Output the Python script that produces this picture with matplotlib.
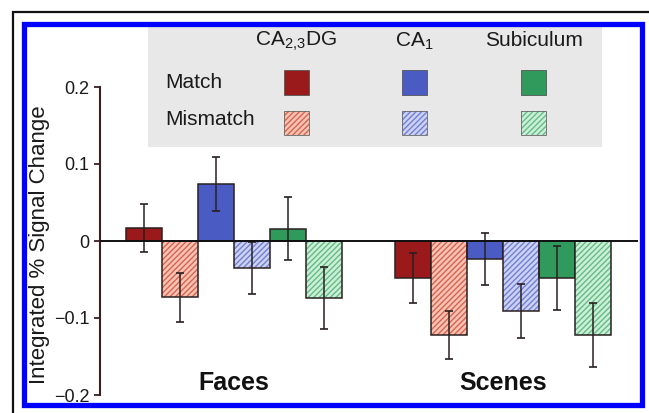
import matplotlib
matplotlib.use("Agg")
import matplotlib.pyplot as plt
from matplotlib.patches import Rectangle

plt.rcParams["font.family"] = ["Liberation Sans", "DejaVu Sans"]
plt.rcParams["mathtext.default"] = "regular"
plt.rcParams["hatch.linewidth"] = 1.0

# data
regions = ["CA$_{2{,}3}$DG", "CA$_1$", "Subiculum"]
groups = ["Faces", "Scenes"]
faces_match = [0.017, 0.074, 0.016]
faces_match_err = [0.031, 0.035, 0.041]
faces_mis = [-0.073, -0.035, -0.074]
faces_mis_err = [0.032, 0.034, 0.040]
scenes_match = [-0.048, -0.023, -0.048]
scenes_match_err = [0.032, 0.034, 0.041]
scenes_mis = [-0.122, -0.091, -0.122]
scenes_mis_err = [0.031, 0.035, 0.042]
yticks = [-0.2, -0.1, 0, 0.1, 0.2]
ytick_labels = ["\u22120.2", "\u22120.1", "0", "0.1", "0.2"]

match_colors = ["#9a1a1c", "#4a5cc4", "#2f9a5c"]
mis_fill = ["#f6c3b4", "#cdd2f2", "#cdeed8"]
mis_hatch = ["#d9644e", "#7080d4", "#63bd84"]
edge = "#2a2020"
txt = "#1a1a1a"

W, H = 649, 413
fig = plt.figure(figsize=(W / 100, H / 100), dpi=100)


def px(x, y):
    # pixel coords (top-left origin) -> figure fraction
    return x / W, 1 - y / H


def box(x0, y0, x1, y1, **kw):
    # rectangle given by pixel corners (top-left, bottom-right)
    fx, fy = px(x0, y1)
    r = Rectangle((fx, fy), (x1 - x0) / W, (y1 - y0) / H, transform=fig.transFigure, **kw)
    fig.patches.append(r)
    return r


# frames around the picture
box(13, 12, 700, 500, fill=False, edgecolor="#111111", linewidth=1.6, zorder=10)
box(24, 23.5, 641.5, 404.5, fill=False, edgecolor="#0000ff", linewidth=3.8, zorder=10)

l, b = px(100, 395)
r, t = px(638, 87)
ax = fig.add_axes([l, b, r - l, t - b])

width = 1.0
for g, (m, me, mm, mme) in enumerate([(faces_match, faces_match_err, faces_mis, faces_mis_err),
                                        (scenes_match, scenes_match_err, scenes_mis, scenes_mis_err)]):
    base = g * 7.5
    for i in range(3):
        xm = base + 2 * i
        xs = xm + 1
        ax.bar(xm, m[i], width, color=match_colors[i], edgecolor=edge, linewidth=1.1, zorder=2)
        ax.bar(xs, mm[i], width, color=mis_fill[i], edgecolor=mis_hatch[i], hatch="//////",
               linewidth=0, zorder=2)
        ax.bar(xs, mm[i], width, fill=False, edgecolor=edge, linewidth=1.1, zorder=3)
        ax.errorbar([xm, xs], [m[i], mm[i]], yerr=[me[i], mme[i]], fmt="none",
                    ecolor=edge, elinewidth=1.1, capsize=3, capthick=1.2, zorder=4)
    ax.text(base + 2.5, -0.184, groups[g], ha="center", va="center",
            fontsize=18, fontweight="bold", color="#111111")

ax.axhline(0, color="#111111", linewidth=1.4, zorder=5)
ax.set_xlim(-1.22, 13.75)
ax.set_ylim(-0.2, 0.2)
ax.set_xticks([])
ax.set_yticks(yticks)
ax.set_yticklabels(ytick_labels, fontsize=13, color=txt)
ax.tick_params(axis="y", direction="out", length=4.5, width=1.3, color="#3a2020", pad=3)
for s in ["top", "right", "bottom"]:
    ax.spines[s].set_visible(False)
ax.spines["left"].set_color("#3a2020")
ax.spines["left"].set_linewidth(1.5)
ax.patch.set_alpha(0)
ax.set_ylabel("Integrated % Signal Change", fontsize=16, color=txt)
ax.yaxis.set_label_coords((50 - 100) / (638 - 100), (395 - 245) / (395 - 87))

# legend panel
box(148, 27, 602, 147, facecolor="#e8e8e8", edgecolor="none", zorder=0)
col_x = [296, 414.5, 533.5]
for i, name in enumerate(regions):
    fig.text(*px(col_x[i], 41), name, ha="center", va="center", fontsize=15, color=txt)
    box(col_x[i] - 12.5, 70, col_x[i] + 12.5, 95, facecolor=match_colors[i],
        edgecolor="#555555", linewidth=0.6, zorder=1)
    box(col_x[i] - 12.5, 111, col_x[i] + 12.5, 135, facecolor=mis_fill[i],
        edgecolor=mis_hatch[i], hatch="//////", linewidth=0, zorder=1)
    box(col_x[i] - 12.5, 111, col_x[i] + 12.5, 135, fill=False,
        edgecolor="#666666", linewidth=0.6, zorder=1)
fig.text(*px(165, 82), "Match", ha="left", va="center", fontsize=15, color=txt)
fig.text(*px(165, 120), "Mismatch", ha="left", va="center", fontsize=15, color=txt)

fig.savefig("out.png", dpi=100)
